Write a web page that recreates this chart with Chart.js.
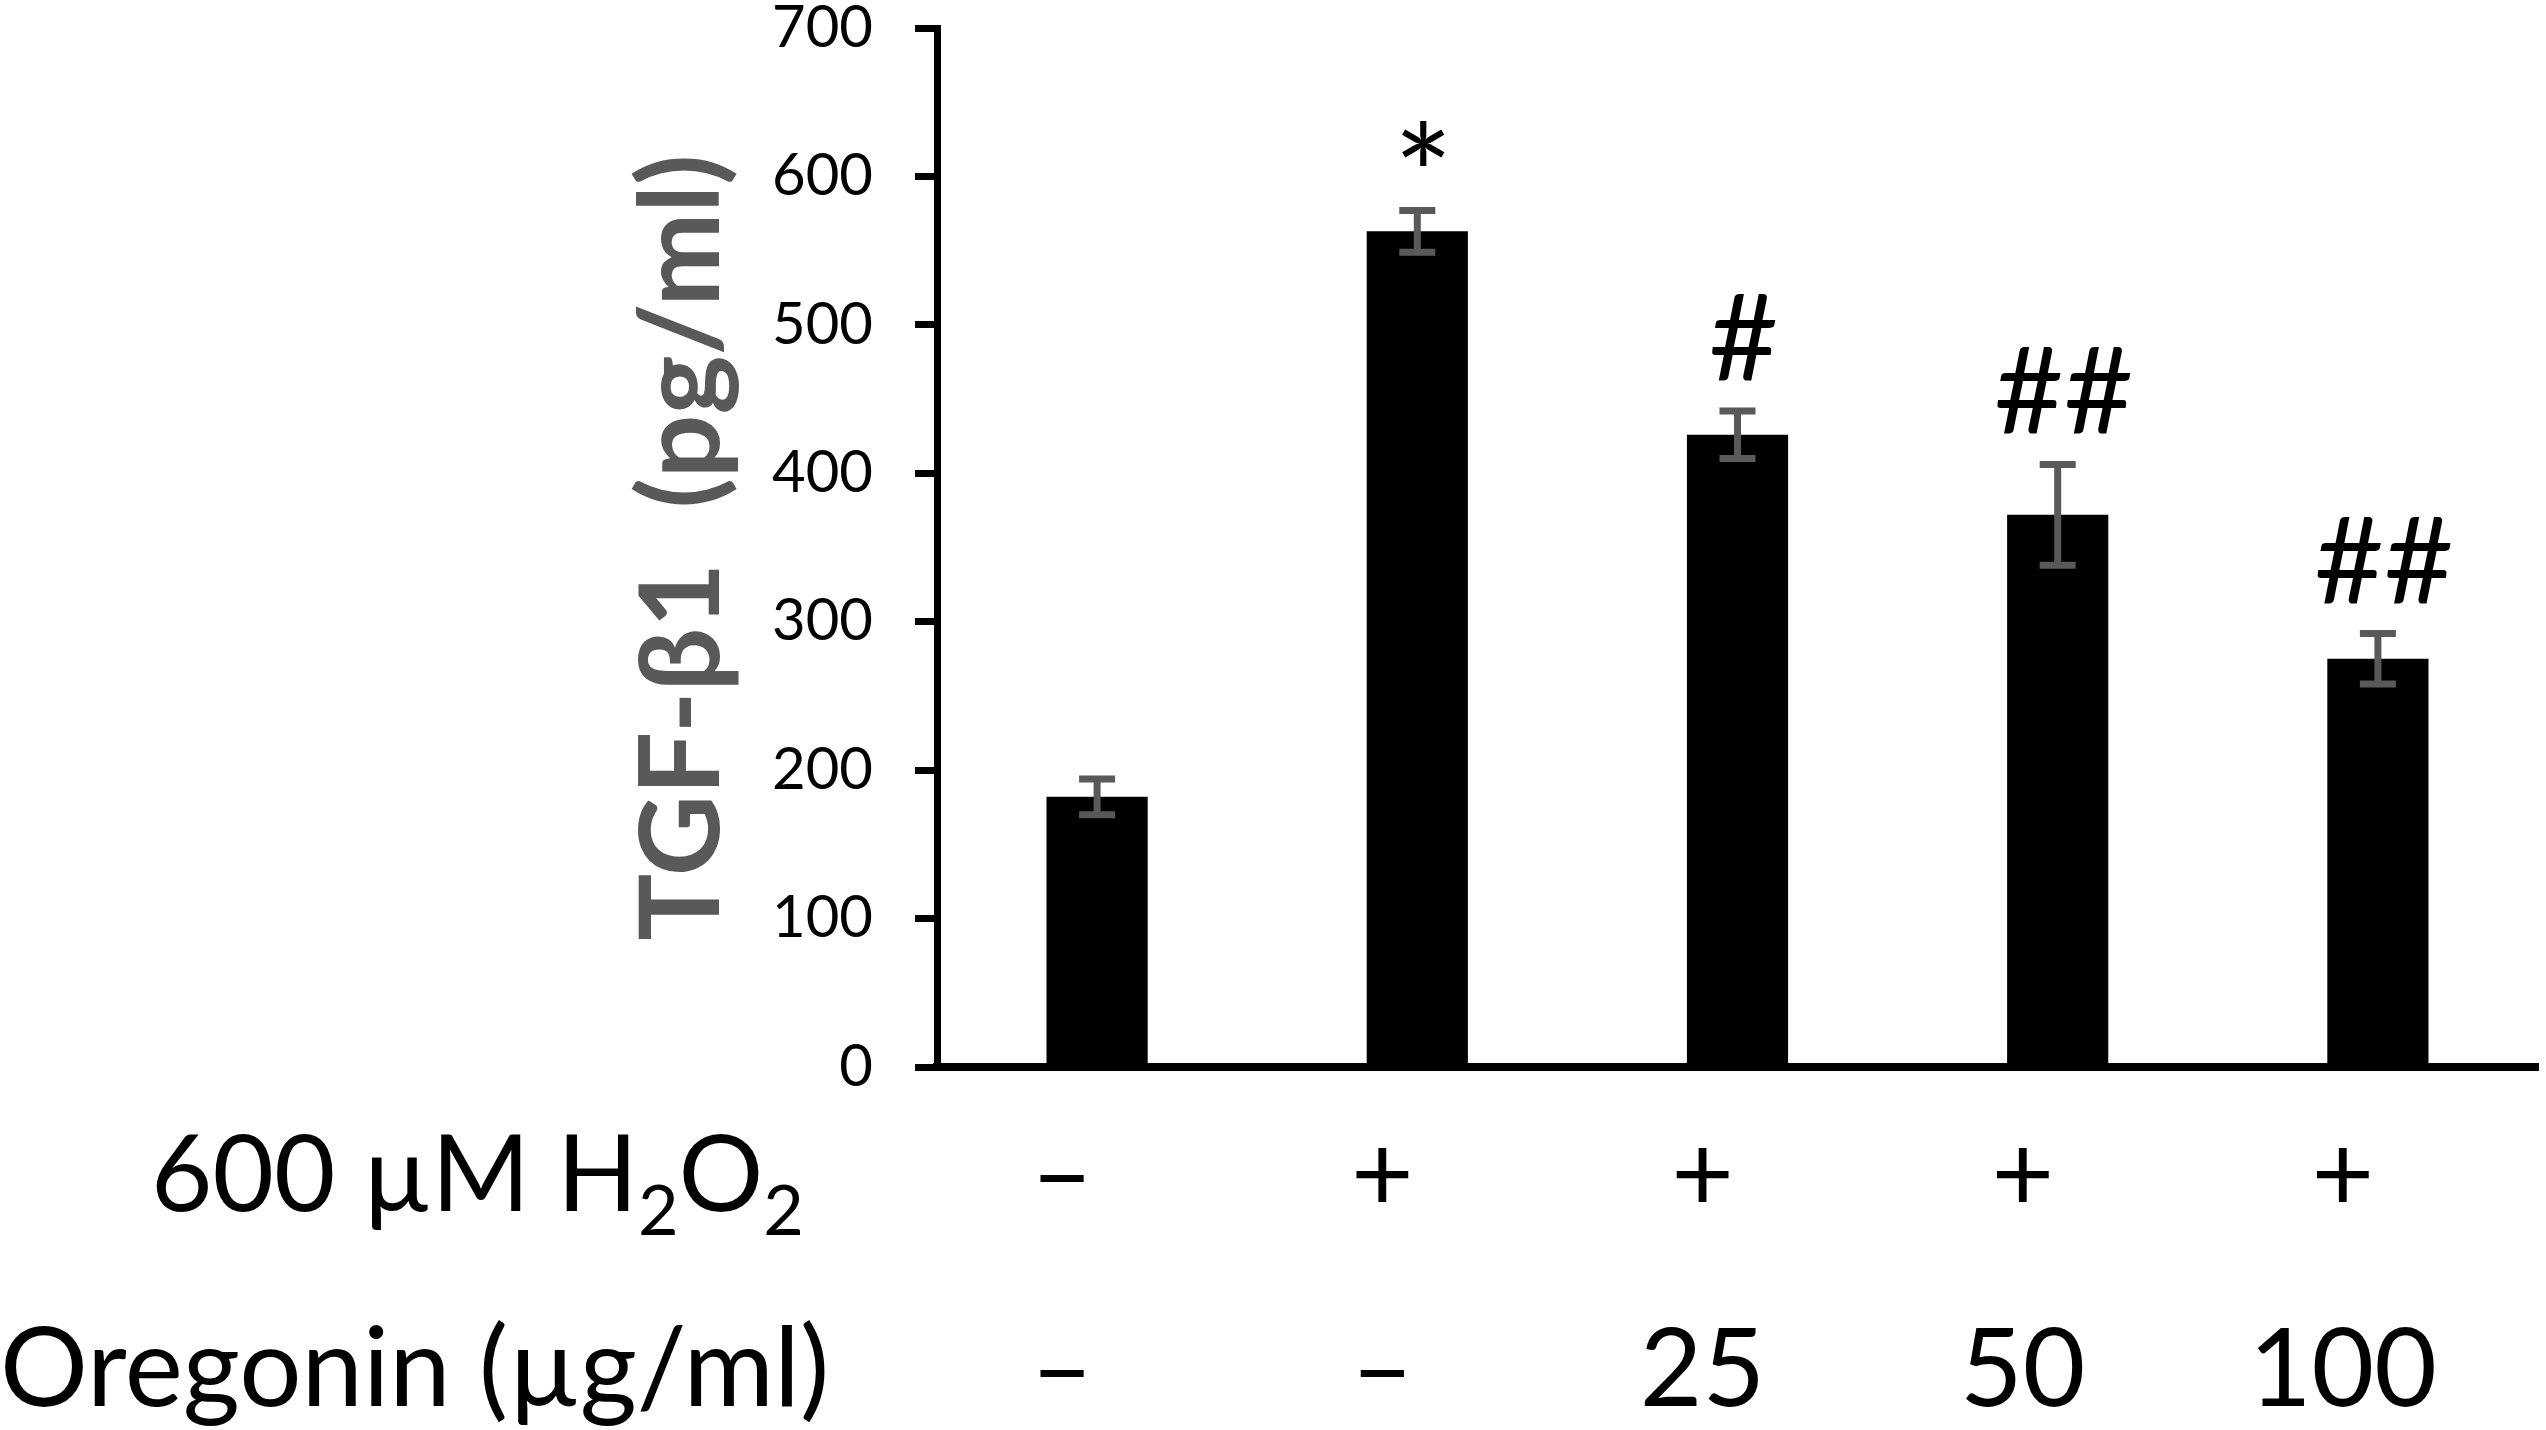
<!DOCTYPE html>
<html>
<head>
<meta charset="utf-8">
<script src="https://cdn.jsdelivr.net/npm/chart.js@4.4.1/dist/chart.umd.min.js"></script>
<style>
  html, body { margin: 0; padding: 0; background: #fff; }
  canvas { display: block; }
</style>
</head>
<body>
<canvas id="myChart" width="2546" height="1430"></canvas>
<script>
// data
const h2o2Row = ['–', '+', '+', '+', '+'];
const oregoninRow = ['–', '–', '25', '50', '100'];
const tgfValues = [182, 563, 426, 372, 275];
const tgfErrors = [12, 14, 16, 34, 17];
const marks = ['', '*', '#', '##', '##'];
const yTicks = [0, 100, 200, 300, 400, 500, 600, 700];

const labels = h2o2Row.map((h, i) => h + ' / ' + oregoninRow[i]);

const ctx = document.getElementById('myChart').getContext('2d');

const errorBars = {
  id: 'errorBars',
  afterDatasetsDraw(chart) {
    const c = chart.ctx;
    const y = chart.scales.y;
    const meta = chart.getDatasetMeta(0);
    c.save();
    c.strokeStyle = '#595959';
    c.lineWidth = 7;
    meta.data.forEach((bar, i) => {
      const top = y.getPixelForValue(tgfValues[i] + tgfErrors[i]);
      const bot = y.getPixelForValue(tgfValues[i] - tgfErrors[i]);
      c.beginPath();
      c.moveTo(bar.x, top); c.lineTo(bar.x, bot);
      c.moveTo(bar.x - 18, top); c.lineTo(bar.x + 18, top);
      c.moveTo(bar.x - 18, bot); c.lineTo(bar.x + 18, bot);
      c.stroke();

      if (marks[i]) {
        const star = marks[i] === '*';
        c.font = (star ? '140px' : '120px') + ' Lato';
        c.fillStyle = '#000';
        c.textAlign = 'center';
        c.textBaseline = 'alphabetic';
        const m = c.measureText(marks[i]);
        const gap = star ? 45 : 30;
        c.fillText(marks[i], bar.x + 6, top - gap - m.actualBoundingBoxDescent);
      }
    });
    c.restore();
  }
};

const rowLabels = {
  id: 'rowLabels',
  afterDraw(chart) {
    const c = chart.ctx;
    const x = chart.scales.x;
    const row1 = 1211, row2 = 1406;
    c.save();
    c.fillStyle = '#000';
    c.textBaseline = 'alphabetic';

    // row headers
    c.textAlign = 'left';
    let px = 151;
    const parts = [['600 µM H', 106, 0], ['2', 70, 24], ['O', 106, 0], ['2', 70, 24]];
    parts.forEach(p => {
      c.font = p[1] + 'px Lato';
      c.fillText(p[0], px, row1 + p[2]);
      px += c.measureText(p[0]).width;
    });
    c.font = '110px Lato';
    c.fillText('Oregonin (µg/ml)', 0, row2);

    // per-group values
    c.font = '108px Lato';
    c.textAlign = 'center';
    h2o2Row.forEach((t, i) => {
      const cx = x.getPixelForValue(i) - 35;
      c.fillText(t, cx, row1);
      c.fillText(oregoninRow[i], cx, row2);
    });
    c.restore();
  }
};

const chart = new Chart(ctx, {
  type: 'bar',
  data: {
    labels: labels,
    datasets: [{
      data: tgfValues,
      backgroundColor: '#000',
      borderWidth: 0,
      categoryPercentage: 1,
      barPercentage: 0.316
    }]
  },
  options: {
    responsive: false,
    devicePixelRatio: 1,
    animation: false,
    layout: { padding: { top: 28, right: 8, bottom: 0, left: 0 } },
    plugins: {
      legend: { display: false },
      tooltip: { enabled: false }
    },
    scales: {
      x: {
        ticks: { display: false },
        grid: { display: false },
        border: { display: true, color: '#000', width: 8 },
        afterFit(s) { s.height = 363; }
      },
      y: {
        min: 0,
        max: 700,
        afterBuildTicks(s) { s.ticks = yTicks.map(v => ({ value: v })); },
        ticks: {
          color: '#000',
          padding: 42,
          font: { family: 'Lato', size: 58 }
        },
        grid: {
          display: true,
          drawOnChartArea: false,
          drawTicks: true,
          tickLength: 22,
          tickWidth: 7,
          tickColor: '#000'
        },
        border: { display: true, color: '#000', width: 7 },
        title: {
          display: true,
          text: 'TGF-β1  (pg/ml)',
          color: '#595959',
          font: { family: 'Lato', size: 112, weight: 'bold' },
          padding: { top: 616, bottom: 0 }
        },
        afterFit(s) { s.width = 937; s.paddingTop = 0; s.paddingBottom = 0; }
      }
    }
  },
  plugins: [errorBars, rowLabels]
});
</script>
</body>
</html>
